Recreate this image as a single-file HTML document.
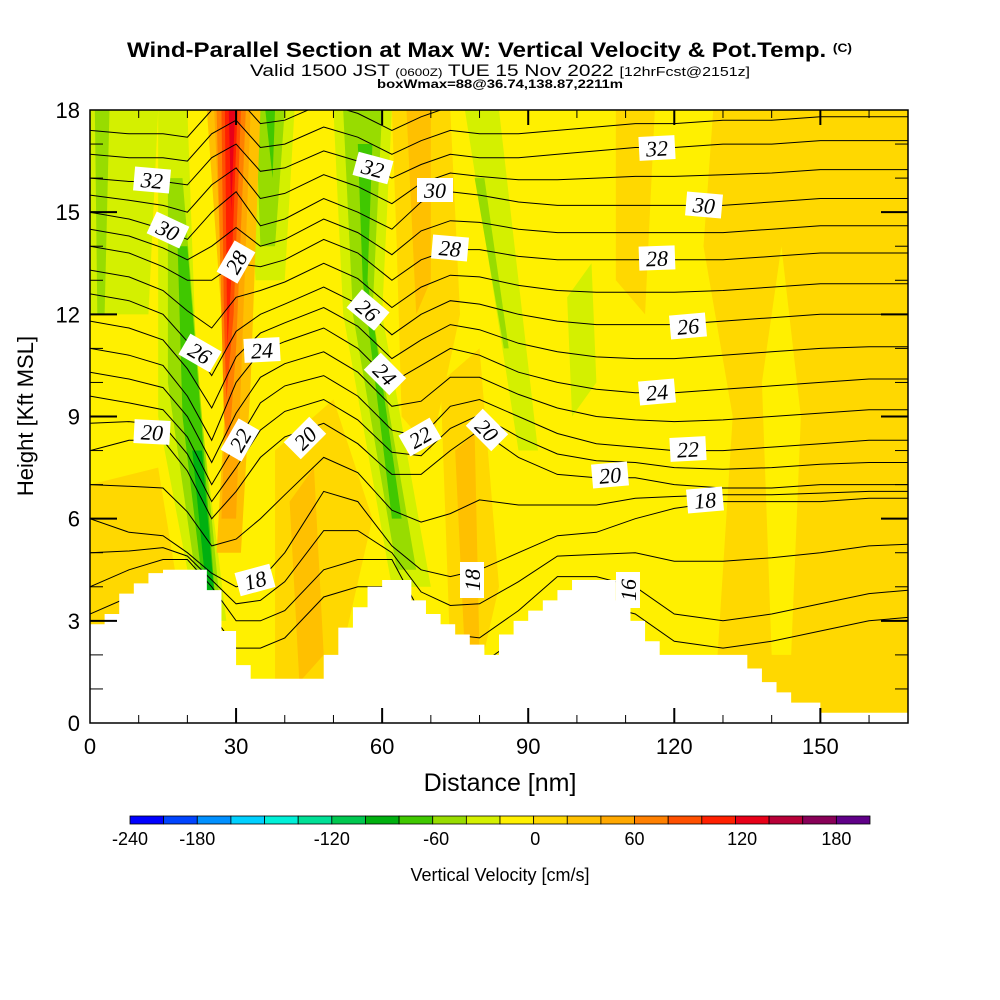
<!DOCTYPE html>
<html><head><meta charset="utf-8"><style>
body{margin:0;background:#fff;}
svg{display:block;font-family:"Liberation Sans",sans-serif;}
</style></head><body>
<svg id="chart" width="1000" height="1000" viewBox="0 0 1000 1000">
<text x="127" y="57" font-size="21" font-weight="bold" textLength="725" lengthAdjust="spacingAndGlyphs">Wind-Parallel Section at Max W: Vertical Velocity &amp; Pot.Temp. <tspan font-size="12" dy="-5">(C)</tspan></text>
<text x="250" y="76" font-size="17" textLength="500" lengthAdjust="spacingAndGlyphs">Valid 1500 JST <tspan font-size="11">(0600Z)</tspan> TUE 15 Nov 2022 <tspan font-size="13">[12hrFcst@2151z]</tspan></text>
<text x="377" y="88" font-size="12" font-weight="bold" textLength="246" lengthAdjust="spacingAndGlyphs">boxWmax=88@36.74,138.87,2211m</text>
<g id="plot"></g>
<text x="500" y="791" text-anchor="middle" font-size="25">Distance [nm]</text>
<text transform="translate(33,416) rotate(-90)" text-anchor="middle" font-size="22">Height [Kft MSL]</text>
<g id="cbar"></g>
<text x="500" y="881" text-anchor="middle" font-size="18">Vertical Velocity [cm/s]</text>
</svg>
<script>
// ---- data ----
const xSamples=[0,8,15,20,25,30,35,40,48,55,62,68,74,80,88,96,104,112,120,130,140,150,160,168];
const thetaLevels=[16,18,20,22,24,26,28,30,32];
const theta16=[4.0,4.5,4.8,4.8,4.0,3.0,3.0,3.3,4.5,4.8,4.8,3.2,2.6,2.5,3.3,4.3,4.3,4.0,3.2,3.0,3.2,3.5,3.8,3.9];
const theta18=[6.0,5.6,5.5,5.0,4.4,4.0,4.2,5.0,6.8,6.5,5.2,4.5,4.3,4.5,5.0,5.5,5.6,6.0,6.3,6.5,6.5,6.5,6.6,6.6];
const theta20=[8.0,8.3,8.3,7.4,6.0,6.8,7.8,8.4,8.8,8.2,7.3,7.3,8.0,8.6,7.8,7.3,7.2,7.2,7.0,6.9,6.9,7.0,7.0,7.0];
const theta22=[9.6,9.4,9.2,8.4,7.0,8.2,9.4,9.9,10.2,9.6,8.6,8.4,9.3,9.5,9.0,8.5,8.2,8.1,8.0,8.0,8.1,8.2,8.3,8.3];
const theta24=[11.0,10.8,10.5,9.6,8.3,10.0,10.9,11.2,11.6,11.0,10.0,10.5,11.0,10.8,10.3,10.0,9.8,9.7,9.7,9.8,9.9,10.0,10.1,10.1];
const theta26=[12.6,12.4,12.0,11.2,10.2,11.5,12.0,12.3,12.8,12.3,11.4,12.0,12.4,12.3,12.0,11.8,11.7,11.7,11.7,11.8,11.9,12.0,12.0,12.0];
const theta28=[14.0,13.8,13.4,13.0,13.0,13.5,13.4,13.6,14.2,13.8,13.0,13.6,13.9,13.9,13.7,13.6,13.6,13.6,13.6,13.6,13.7,13.8,13.8,13.8];
const theta30=[15.0,14.8,14.5,14.2,15.0,15.6,14.6,14.8,15.4,15.0,14.5,15.3,15.6,15.5,15.3,15.2,15.2,15.2,15.2,15.2,15.3,15.4,15.4,15.4];
const theta32=[16.0,15.9,15.9,15.8,16.6,17.0,16.2,16.3,16.8,16.5,16.0,16.4,16.7,16.6,16.6,16.7,16.8,16.9,16.9,17.0,17.0,17.1,17.1,17.1];
const terrainX=[0,3,6,9,12,15,18,21,24,27,30,33,36,39,42,45,48,51,54,57,60,63,66,69,72,75,78,81,84,87,90,93,96,99,102,105,108,111,114,117,120,123,126,129,132,135,138,141,144,147,150,153,168];
const terrainH=[2.9,3.2,3.8,4.1,4.4,4.5,4.5,4.5,3.9,2.7,1.7,1.3,1.3,1.3,1.3,1.3,2.0,2.8,3.4,4.0,4.2,4.2,3.6,3.2,2.9,2.6,2.3,2.0,2.6,3.0,3.3,3.6,3.9,4.2,4.2,4.2,3.6,3.0,2.4,2.0,2.0,2.0,2.0,2.0,2.0,1.6,1.2,0.9,0.6,0.6,0.3,0.3,0.3];
const xTicks=[0,30,60,90,120,150];
const yTicks=[0,3,6,9,12,15,18];
const cbColors=["#0000ff","#0044ff","#0090ff","#00d0ff","#00f0d8","#00e096","#00c850","#00b010","#40c800","#98dc00","#d4f000","#fff000","#ffd800","#ffc000","#ffa800","#ff8000","#ff5000","#ff2000","#e80018","#b80038","#880058","#600088"];
const cbLabels=["-240","-180","-120","-60","0","60","120","180"];
const cbLabelPos=[0,2,6,9.1,12.05,15,18.2,21];
// shaded vertical-velocity regions [color, polygon in (nm,kft)]
const wRegions=[
 ["#ffd800",[[128,18],[168,18],[168,0],[128,0],[132,9],[126,14]]],
 ["#fff000",[[138,10],[142,14],[146,9],[144,2],[140,2]]],
 ["#ffd800",[[0,7],[14,7.5],[18,4],[0,2]]],
 ["#ffd800",[[38,8],[50,9.5],[58,6],[50,1],[38,1]]],
 ["#ffc000",[[41,6.5],[46,7.5],[48,2],[43,1.2]]],
 ["#ffd800",[[62,18],[74,18],[76,12],[70,8],[64,9],[63,14]]],
 ["#ffc000",[[65,18],[70,18],[70,13],[67,12]]],
 ["#ffd800",[[72,10],[80,11],[84,4],[80,1.5],[74,2]]],
 ["#ffc000",[[75,8],[79,8.5],[80,2],[77,2]]],
 ["#ffd800",[[108,18],[116,18],[114,12],[108,13]]],
 ["#d4f000",[[0,18],[14,18],[12,12],[0,12]]],
 ["#98dc00",[[1,18],[4,18],[3,12],[1.5,12]]],
 ["#d4f000",[[14,18],[20,18],[22,10],[28,3],[22,3],[14,9]]],
 ["#98dc00",[[16,16],[19,16],[23,9],[27,3],[23,3],[16,10]]],
 ["#40c800",[[18,14],[20,14],[25,5],[26,3],[24,3],[19,9]]],
 ["#00b010",[[21,8],[23,8],[26,3],[24.5,3]]],
 ["#d4f000",[[32,18],[42,18],[40,13],[34,13]]],
 ["#98dc00",[[34,18],[40,18],[38,14],[35,14]]],
 ["#40c800",[[36,18],[38,18],[37.5,16]]],
 ["#d4f000",[[50,18],[62,18],[60,12],[70,4],[62,4],[52,12]]],
 ["#98dc00",[[52,18],[60,18],[58,12],[67,4.5],[63,4.5],[54,12]]],
 ["#40c800",[[55,17],[58,17],[57,13],[64,6],[62,6],[56,13]]],
 ["#d4f000",[[77,18],[84,18],[92,8],[88,8]]],
 ["#98dc00",[[79,16],[81,16],[86,11],[85,11]]],
 ["#d4f000",[[98,12.5],[103,13.5],[104,10],[99,9]]],
 ["#ffc000",[[24,18],[35,18],[33,10],[31,5],[26,5],[28,10]]],
 ["#ffa800",[[25.5,18],[33,18],[31,10],[30,6],[27,6],[28,10]]],
 ["#ff8000",[[26,18],[32,18],[30,11],[28.5,8],[27.5,9],[27,12]]],
 ["#ff5000",[[27,18],[31,18],[29.5,12],[28,9.5],[27.5,12]]],
 ["#ff2000",[[27.7,18],[30.3,18],[29,13],[28.2,11]]],
 ["#e80018",[[28.5,18],[29.8,18],[29,15]]]
];
// contour labels [text, px, py, angle]
const cLabels=[["32",152,180,5],["30",168,230,25],["28",236,262,-60],["26",200,353,30],["24",262,350,-3],["20",152,432,3],["22",240,440,-60],["20",305,438,-45],["18",255,580,-15],["32",373,168,15],["30",435,190,0],["28",450,248,5],["26",368,310,40],["24",385,374,45],["22",420,437,-30],["20",487,430,45],["18",472,580,-90],["32",657,148,-3],["30",704,205,5],["28",657,258,-2],["26",688,326,-5],["24",657,392,-5],["22",688,449,-3],["20",610,475,-5],["18",705,500,-5],["16",628,590,-90]];
// ---- scales ----
const X0=90,X1=908,Y0=723,Y1=110;
const sx=v=>X0+v*(X1-X0)/168;
const sy=v=>Y0-v*(Y0-Y1)/18;
const NS="http://www.w3.org/2000/svg";
function mk(tag,attrs,parent){const e=document.createElementNS(NS,tag);for(const k in attrs)e.setAttribute(k,attrs[k]);parent.appendChild(e);return e;}
const plot=document.getElementById('plot');
const clip=mk('clipPath',{id:'pc'},plot);
mk('rect',{x:X0,y:Y1,width:X1-X0,height:Y0-Y1},clip);
const g=mk('g',{'clip-path':'url(#pc)'},plot);


const bg=mk('rect',{x:X0,y:Y1,width:X1-X0,height:Y0-Y1,fill:'#fff000'},g);


wRegions.forEach((r,i)=>{
 const p=mk('polygon',{points:r[1].map(q=>sx(q[0])+','+sy(q[1])).join(' '),fill:r[0]},g);
 
 
});
// contours
const series=[theta16,theta18,theta20,theta22,theta24,theta26,theta28,theta30,theta32];
function drawLine(arr){
 const d=arr.map((h,i)=>(i?'L':'M')+sx(xSamples[i]).toFixed(1)+','+sy(h).toFixed(1)).join('');
 const p=mk('path',{d:d,fill:'none',stroke:'#000','stroke-width':1},g);
 
 
}
series.forEach((s,k)=>{
 drawLine(s);
 if(k<series.length-1){const n=series[k+1];drawLine(s.map((v,i)=>(v+n[i])/2));}
});
drawLine(theta32.map(v=>v+0.7));drawLine(theta32.map(v=>v+1.4));
drawLine(theta16.map(v=>v-0.8));
// terrain
let tp=[[sx(0),Y0+2]];
terrainX.forEach((x,i)=>{
 const xe=i<terrainX.length-1?terrainX[i+1]:168;
 tp.push([sx(x),sy(terrainH[i])]);tp.push([sx(xe),sy(terrainH[i])]);
});
tp.push([sx(168),Y0+2]);
const ter=mk('polygon',{points:tp.map(p=>p.join(',')).join(' '),fill:'#fff'},g);


// labels
cLabels.forEach(l=>{
 const gg=mk('g',{transform:`translate(${l[1]},${l[2]}) rotate(${l[3]})`},g);
 
 
 mk('rect',{x:-18,y:-12,width:36,height:24,fill:'#fff'},gg);
 const t=mk('text',{x:0,y:8,'text-anchor':'middle','font-size':22,'font-family':'Liberation Serif,serif','font-style':'italic'},gg);
 t.textContent=l[0];
});
// frame & ticks
const fr=mk('rect',{x:X0,y:Y1,width:X1-X0,height:Y0-Y1,fill:'none',stroke:'#000','stroke-width':1.5},plot);


for(let v=10;v<168;v+=10){
 const maj=v%30===0, L=maj?15:8, x=sx(v);
 mk('line',{x1:x,y1:Y1,x2:x,y2:Y1+L,stroke:'#000','stroke-width':maj?2:1},plot);
 mk('line',{x1:x,y1:Y0,x2:x,y2:Y0-L,stroke:'#000','stroke-width':maj?2:1},plot);
}
for(let v=1;v<18;v++){
 const maj=v%3===0, L=maj?27:13, y=sy(v);
 mk('line',{x1:X0,y1:y,x2:X0+L,y2:y,stroke:'#000','stroke-width':maj?2:1},plot);
 mk('line',{x1:X1,y1:y,x2:X1-L,y2:y,stroke:'#000','stroke-width':maj?2:1},plot);
}
xTicks.forEach(v=>{
 const t=mk('text',{x:sx(v),y:754,'text-anchor':'middle','font-size':22},plot);
 
 
 t.textContent=v;
});
yTicks.forEach(v=>{
 const t=mk('text',{x:80,y:sy(v)+8,'text-anchor':'end','font-size':22},plot);
 
 
 t.textContent=v;
});
// colorbar
const cb=document.getElementById('cbar');


const CW=(870-130)/cbColors.length;
cbColors.forEach((c,i)=>{
 const r=mk('rect',{x:130+i*CW,y:816,width:CW,height:8,fill:c,stroke:'#000','stroke-width':0.8},cb);
 
 
});
cbLabels.forEach((s,i)=>{
 const t=mk('text',{x:130+cbLabelPos[i]*CW,y:845,'text-anchor':'middle','font-size':18},cb);
 
 
 t.textContent=s;
});
</script>
</body></html>
